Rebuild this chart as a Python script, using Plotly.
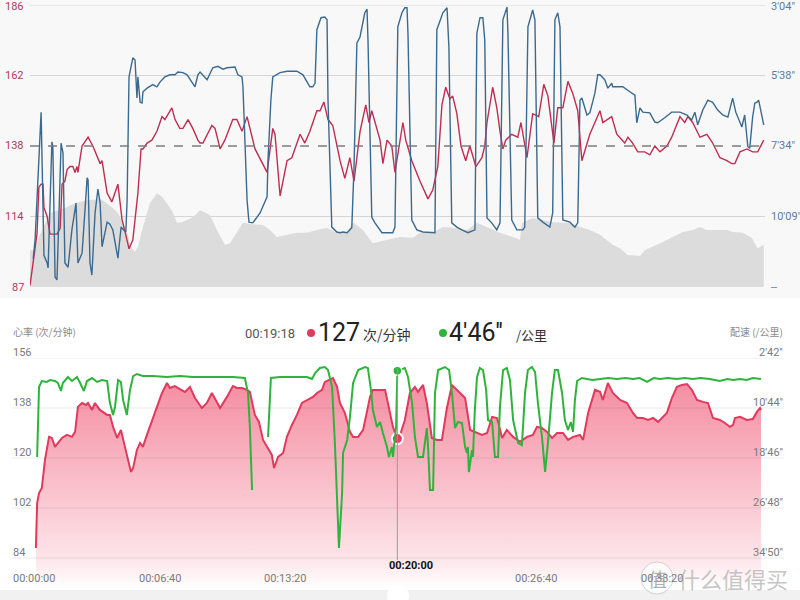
import plotly.graph_objects as go

W, H = 800, 600
def px(x): return x / W
def py(y): return 1 - y / H

# ---------------- data: top panel (time s, value) ----------------
top_hr = [(0,90.5),(19,106),(22,108),(28,124),(35,125),(41,125),(44,117),(54,114),(63,108),(72,108),(85,108),(95,110),
          (101,125),(110,126),(117,130),(126,131),(135,131),(142,129),(148,131),(151,129),(164,138),(183,141),(198,138),
          (221,132),(227,133),(243,122),(258,119),(277,125),(290,113),(299,109),(312,103),(324,106),(331,113),(340,122),
          (350,137),(356,137),(369,139),(384,140),(400,143),(416,148),(425,147),(447,151),(457,147),(472,144),(482,144),
          (498,147),(513,144),(529,140),(536,139),(545,139),(573,145),(583,144),(599,137),(614,140),(639,147),(652,147),
          (668,143),(684,148),(693,144),(709,137),(747,129),(765,144),(772,142),(788,121),(810,133),(825,134),(851,142),
          (866,139),(882,143),(904,150),(914,150),(926,153),(939,147),(954,145),(977,133),(992,127),(1008,134),(1021,126),
          (1040,143),(1058,152),(1068,146),(1077,150),(1103,140),(1112,132),(1125,140),(1140,138),(1150,129),(1166,139),
          (1175,146),(1184,140),(1203,133),(1229,126),(1254,120),(1269,123),(1285,131),(1298,152),(1310,158),(1323,154),
          (1332,155),(1345,149),(1358,138),(1373,133),(1386,138),(1405,131),(1424,134),(1433,138),(1440,146),(1458,158),
          (1471,151),(1481,143),(1490,137),(1499,140),(1518,142),(1537,141),(1547,146),(1566,134),(1584,149),(1603,148),
          (1619,159),(1632,155),(1651,139),(1663,151),(1679,151),(1695,160),(1710,156),(1726,150),(1739,133),(1764,142),
          (1796,150),(1805,146),(1833,148),(1849,142),(1874,139),(1884,141),(1899,139),(1915,136),(1937,136),(1953,135),
          (1969,138),(1985,136),(2007,138),(2022,141),(2048,148),(2063,146),(2073,148),(2088,146),(2111,141),(2133,142),
          (2151,139),(2174,134),(2196,133),(2211,132),(2221,132),(2237,136),(2259,137),(2277,136),(2293,136),(2312,140)]

# pace shown on the top chart's right scale (level 0 = "--", 4 = 3'04")
top_pace_level = [(10,0.40),(16,0.67),(35,2.48),(41,1.23),(44,0.45),(54,0.34),(57,0.27),(69,2.06),(72,1.99),(79,0.14),
          (85,0.10),(98,2.04),(104,1.90),(110,0.34),(120,0.28),(132,0.81),(145,1.19),(151,0.34),(164,0.48),(167,0.67),
          (180,1.55),(183,1.52),(189,0.34),(195,0.17),(205,1.05),(214,1.39),(221,1.19),(227,0.57),(243,0.92),(252,0.89),
          (261,0.81),(277,0.41),(287,0.85),(293,0.82),(302,0.78),(306,1.23),(312,2.98),(324,3.25),(331,3.22),(337,2.68),
          (340,2.98),(347,2.62),(353,2.61),(356,2.77),(369,2.82),(387,2.87),(400,2.84),(410,2.91),(425,2.98),(441,3.01),
          (457,3.01),(466,3.05),(482,3.04),(495,3.01),(510,2.91),(520,2.84),(529,3.01),(536,3.05),(558,2.94),(576,3.11),
          (592,3.13),(608,3.09),(621,3.11),(646,3.12),(655,3.01),(668,2.98),(671,2.84),(684,1.23),(690,0.92),(702,0.91),
          (725,1.05),(747,1.28),(750,1.80),(759,2.65),(765,2.98),(788,3.04),(810,3.06),(841,3.06),(860,3.01),(876,2.89),
          (882,2.84),(891,2.84),(898,2.89),(904,3.65),(917,3.82),(929,3.83),(936,3.79),(939,2.65),(951,0.85),(967,0.78),
          (977,0.77),(986,0.78),(999,0.77),(1014,0.84),(1021,1.70),(1030,3.46),(1040,3.55),(1055,3.89),(1062,3.94),
          (1065,3.50),(1077,0.99),(1087,0.91),(1103,0.81),(1109,0.77),(1125,0.77),(1143,0.77),(1150,0.85),(1159,3.69),
          (1172,3.89),(1181,3.96),(1188,3.96),(1191,3.60),(1203,0.95),(1219,0.81),(1238,0.78),(1266,0.77),(1276,0.77),
          (1282,3.65),(1301,3.89),(1314,3.96),(1320,3.40),(1329,0.91),(1345,0.85),(1361,0.81),(1380,0.77),(1402,0.81),
          (1408,3.60),(1418,3.82),(1427,3.82),(1433,3.50),(1440,0.98),(1455,0.91),(1471,0.81),(1481,0.91),(1490,3.79),
          (1503,3.97),(1506,3.60),(1518,0.95),(1534,0.81),(1553,0.81),(1559,0.85),(1569,3.69),(1584,3.93),(1591,3.79),
          (1600,0.98),(1616,0.92),(1638,0.85),(1647,1.05),(1654,3.79),(1663,3.89),(1670,3.69),(1679,0.95),(1701,0.92),
          (1717,0.85),(1726,0.91),(1733,2.65),(1739,2.68),(1755,2.44),(1764,2.47),(1780,2.75),(1789,3.01),(1796,3.01),
          (1811,2.94),(1821,2.82),(1833,2.89),(1836,2.84),(1868,2.84),(1890,2.77),(1906,2.72),(1912,2.33),(1922,2.54),
          (1931,2.48),(1953,2.47),(1969,2.34),(1978,2.33),(2000,2.40),(2022,2.48),(2048,2.48),(2070,2.44),(2085,2.37),
          (2095,2.48),(2104,2.30),(2120,2.51),(2136,2.65),(2151,2.62),(2167,2.51),(2183,2.44),(2199,2.41),(2211,2.65),
          (2214,2.68),(2224,2.48),(2230,2.41),(2237,2.34),(2243,2.27),(2252,2.44),(2262,1.99),(2268,1.97),(2274,2.33),
          (2277,2.41),(2284,2.61),(2290,2.62),(2296,2.65),(2306,2.44),(2312,2.30)]

top_elev_level = [(0,0.52),(16,0.52),(28,0.71),(63,1.05),(110,1.12),(126,1.16),(158,1.21),(180,1.23),(221,1.25),
          (236,1.21),(258,1.13),(277,1.05),(293,0.92),(306,0.77),(321,0.55),(331,0.50),(340,0.57),(356,0.85),(378,1.19),
          (400,1.33),(416,1.28),(432,1.19),(447,1.09),(463,0.91),(479,0.92),(495,0.95),(513,0.99),(536,1.09),(567,1.02),
          (589,0.81),(614,0.60),(630,0.62),(652,0.77),(671,0.91),(702,0.89),(734,0.88),(756,0.81),(778,0.71),(810,0.74),
          (841,0.77),(873,0.77),(904,0.81),(936,0.84),(967,0.77),(999,0.78),(1017,0.92),(1049,0.81),(1080,0.62),
          (1125,0.67),(1166,0.71),(1206,0.70),(1229,0.77),(1269,0.77),(1301,0.85),(1332,0.84),(1377,0.81),(1408,0.91),
          (1440,0.85),(1481,0.77),(1521,0.71),(1544,0.67),(1550,0.91),(1584,0.98),(1616,0.95),(1647,0.92),(1692,0.91),
          (1733,0.85),(1764,0.81),(1796,0.74),(1818,0.67),(1836,0.60),(1859,0.55),(1884,0.45),(1899,0.45),(1922,0.44),
          (1937,0.52),(1962,0.57),(1994,0.64),(2025,0.71),(2057,0.78),(2088,0.81),(2111,0.85),(2133,0.81),(2158,0.81),
          (2196,0.81),(2214,0.78),(2246,0.77),(2274,0.70),(2293,0.55),(2312,0.60)]

# ---------------- data: bottom panel (time s, value) ----------------
bot_hr = [(6,87.6),(10,103.8),(16,107.4),(25,109.2),(35,119.3),(48,127.6),(57,127.2),(67,124.0),(76,125.4),(89,127.2),
          (105,128.3),(121,127.6),(131,129.4),(140,138.4),(153,139.8),(166,139.1),(172,139.8),(185,137.3),(194,139.8),
          (210,137.3),(233,135.5),(242,135.5),(252,131.2),(265,127.2),(277,130.1),(290,124.0),(309,115.0),(316,116.4),
          (328,122.9),(338,125.4),(347,124.0),(360,128.3),(376,133.0),(392,138.4),(408,143.4),(424,147.0),(433,145.2),
          (449,145.9),(465,144.8),(481,143.8),(497,145.6),(513,141.6),(535,138.0),(551,139.8),(567,143.4),(583,140.2),
          (593,138.0),(615,142.0),(634,145.9),(647,145.2),(663,145.2),(679,144.5),(688,143.8),(704,135.5),(717,133.0),
          (730,126.5),(746,123.6),(758,121.1),(765,116.4),(778,120.4),(794,121.8),(806,127.6),(822,131.9),(838,135.5),
          (854,139.8),(873,140.9),(889,142.0),(902,143.4),(918,144.5),(927,147.4),(943,148.1),(953,148.8),(966,145.6),
          (975,139.8),(991,136.2),(1007,129.4),(1017,127.6),(1033,127.6),(1049,130.1),(1061,136.2),(1071,142.0),
          (1080,144.5),(1103,144.5),(1119,144.5),(1128,139.8),(1144,131.2),(1158,127.0),(1166,128.0),(1182,133.7),
          (1198,143.4),(1214,145.6),(1224,143.8),(1240,146.3),(1252,139.8),(1268,127.2),(1284,126.5),(1300,126.5),
          (1316,138.0),(1332,146.3),(1348,144.5),(1364,142.7),(1374,141.6),(1390,130.1),(1405,129.4),(1428,128.3),
          (1444,129.0),(1460,134.8),(1476,134.4),(1492,127.2),(1507,130.1),(1527,127.6),(1549,125.8),(1571,127.6),
          (1590,128.3),(1603,131.2),(1619,130.8),(1635,129.4),(1651,127.2),(1667,129.0),(1686,129.0),(1702,126.5),
          (1718,127.6),(1740,128.3),(1750,126.5),(1766,136.2),(1788,144.5),(1804,143.8),(1813,140.9),(1829,147.0),
          (1845,143.4),(1868,140.9),(1890,139.8),(1909,136.2),(1922,134.4),(1941,134.4),(1957,133.7),(1973,134.4),
          (1989,133.0),(2017,136.2),(2033,141.6),(2049,145.6),(2065,146.3),(2081,146.6),(2097,144.5),(2113,140.9),
          (2132,140.2),(2148,139.8),(2164,134.4),(2186,133.7),(2202,132.6),(2218,131.2),(2228,131.9),(2234,134.4),
          (2250,134.8),(2272,133.7),(2291,134.0),(2304,136.6),(2314,138.0),(2317,137.3)]

# pace in seconds per km (None = no data)
bot_pace = [(10,1116),(16,442),(25,384),(41,393),(51,374),(67,384),(76,403),(86,480),(92,403),(108,345),(121,384),
          (137,345),(147,403),(159,480),(169,384),(185,355),(201,393),(217,374),(233,384),(242,596),(252,711),(258,634),
          (268,374),(277,393),(284,567),(296,711),(306,470),(316,336),(328,316),(347,336),(379,336),(424,345),(465,336),
          (507,345),(551,345),(593,345),(634,345),(672,355),(682,499),(688,827),(695,1434),(720,None),(746,924),(755,355),
          (784,345),(825,345),(870,345),(886,364),(896,307),(911,258),(927,249),(937,278),(950,442),(959,981),(966,1463),
          (972,1994),(982,1463),(985,1078),(998,952),(1007,731),(1017,403),(1033,278),(1055,249),(1064,258),(1074,470),
          (1080,663),(1093,827),(1103,779),(1112,885),(1125,1020),(1131,1116),(1141,1020),(1144,1116),(1154,827),
          (1158,286),(1166,278),(1182,258),(1192,345),(1205,596),(1214,924),(1224,1116),(1240,1116),(1252,837),
          (1256,1020),(1262,1434),(1272,1434),(1278,499),(1288,278),(1310,249),(1323,278),(1332,499),(1342,837),
          (1351,779),(1364,789),(1374,1020),(1380,1078),(1383,1020),(1386,1261),(1396,1049),(1399,1116),(1405,663),
          (1412,345),(1421,258),(1431,278),(1441,470),(1447,760),(1460,779),(1469,1116),(1479,1116),(1485,634),
          (1495,278),(1507,258),(1517,374),(1527,760),(1543,981),(1555,1001),(1565,499),(1574,278),(1587,249),
          (1597,297),(1606,596),(1619,924),(1629,1261),(1638,981),(1651,499),(1660,278),(1670,278),(1683,499),
          (1692,760),(1702,856),(1711,779),(1718,875),(1724,567),(1731,384),(1746,355),(1780,374),(1804,364),
          (1830,355),(1858,364),(1885,355),(1909,364),(1930,355),(1954,393),(1975,355),(1995,364),(2020,355),
          (2049,364),(2075,355),(2100,364),(2125,355),(2154,364),(2186,384),(2210,364),(2228,374),(2250,364),
          (2272,374),(2291,355),(2317,364)]

# ticks / labels
top_hr_ticks = [186, 162, 138, 114, 90]
top_hr_text = ["186", "162", "138", "114", "87"]
top_pace_ticks = [4, 3, 2, 1, 0]
top_pace_text = ["3'04\"", "5'38\"", "7'34\"", "10'09\"", "--"]
bot_hr_ticks = [156, 138, 120, 102, 84]
bot_pace_ticks = [162, 644, 1126, 1608, 2090]
bot_pace_text = ["2'42''", "10'44''", "18'46''", "26'48''", "34'50''"]
bot_time_ticks = [0, 400, 800, 1200, 1600, 2000]
bot_time_text = ["00:00:00", "00:06:40", "00:13:20", "00:20:00", "00:26:40", "00:33:20"]
cursor_time, cursor_hr, cursor_pace = 1158, 127, 286

FONT = "Roboto, Noto Sans CJK SC, sans-serif"
CJK = "Noto Sans CJK SC, Roboto, sans-serif"

def xs(p): return [a for a, _ in p]
def ys(p): return [b for _, b in p]

fig = go.Figure()
fig.add_trace(go.Scatter(x=xs(top_elev_level), y=ys(top_elev_level), xaxis="x", yaxis="y", mode="lines",
                         line=dict(width=0, color="#dcdcdc"), fill="tozeroy", fillcolor="#dcdcdc", hoverinfo="skip"))
fig.add_trace(go.Scatter(x=xs(top_hr), y=ys(top_hr), xaxis="x", yaxis="y2", mode="lines",
                         line=dict(width=1.4, color="#bf2d52")))
fig.add_trace(go.Scatter(x=xs(top_pace_level), y=ys(top_pace_level), xaxis="x", yaxis="y3", mode="lines",
                         line=dict(width=1.4, color="#3b6a8e")))
fig.add_trace(go.Scatter(x=xs(bot_hr), y=ys(bot_hr), xaxis="x2", yaxis="y4", mode="lines",
                         line=dict(width=2, color="#e03a5d"), fill="tozeroy",
                         fillgradient=dict(type="vertical", start=73, stop=150,
                                           colorscale=[[0, "#ffffff"], [0.15, "#fde3e8"], [1, "#f48a9f"]])))
fig.add_trace(go.Scatter(x=[cursor_time], y=[cursor_hr], xaxis="x2", yaxis="y4", mode="markers", cliponaxis=False,
                         marker=dict(size=11, color="#e03a5d", line=dict(color="white", width=2))))
fig.add_trace(go.Scatter(x=xs(bot_pace), y=ys(bot_pace), xaxis="x2", yaxis="y5", mode="lines", connectgaps=False,
                         line=dict(width=2, color="#2fb33c")))
fig.add_trace(go.Scatter(x=[cursor_time], y=[cursor_pace], xaxis="x2", yaxis="y5", mode="markers", cliponaxis=False,
                         marker=dict(size=9, color="#2fb33c", line=dict(color="white", width=1.5))))

hid = dict(visible=False, showgrid=False, zeroline=False, fixedrange=True)
top_dom = [py(287), py(5)]
bot_dom = [py(588), py(358)]
fig.update_layout(
    width=W, height=H, margin=dict(l=0, r=0, t=0, b=0), showlegend=False,
    paper_bgcolor="white", plot_bgcolor="rgba(0,0,0,0)", hovermode=False,
    font=dict(family=FONT),
    xaxis=dict(domain=[px(30), px(765)], range=[0, 2316], anchor="y", **hid),
    yaxis=dict(domain=top_dom, range=[0, 4], anchor="x", **hid),
    yaxis2=dict(overlaying="y", range=[90, 186], anchor="x", **hid),
    yaxis3=dict(overlaying="y", range=[0, 4], anchor="x", **hid),
    xaxis2=dict(domain=[px(34), px(766)], range=[0, 2333], anchor="y4", **hid),
    yaxis4=dict(domain=bot_dom, range=[73.2, 156], anchor="x2", **hid),
    yaxis5=dict(overlaying="y4", range=[2379, 162], anchor="x2", **hid),
)

shapes = []
# top panel background
shapes.append(dict(type="rect", xref="paper", yref="paper", x0=0, x1=1, y0=py(298), y1=1,
                   fillcolor="#f8f8f8", line=dict(width=0), layer="below"))
for v in top_hr_ticks[:-1]:
    if v == 138:
        continue
    shapes.append(dict(type="line", xref="paper", yref="y2", x0=px(30), x1=px(765), y0=v, y1=v,
                       line=dict(color="#d6d6d6", width=1), layer="below"))
shapes.append(dict(type="line", xref="paper", yref="y2", x0=px(30), x1=px(765), y0=138, y1=138,
                   line=dict(color="#7c7c7c", width=1.6, dash="dash"), layer="above"))
# bottom grid
for v in bot_hr_ticks:
    shapes.append(dict(type="line", xref="paper", yref="y4", x0=px(12), x1=px(784), y0=v, y1=v,
                       line=dict(color="rgba(0,0,0,0.08)", width=1), layer="above"))
# crosshair
shapes.append(dict(type="line", xref="x2", yref="paper", x0=cursor_time, x1=cursor_time, y0=py(560), y1=py(368),
                   line=dict(color="#9a9a9a", width=1), layer="above"))
# header dots
shapes.append(dict(type="circle", xref="paper", yref="paper", x0=px(307), x1=px(315), y0=py(337), y1=py(329),
                   fillcolor="#e03a5d", line=dict(width=0)))
shapes.append(dict(type="circle", xref="paper", yref="paper", x0=px(439), x1=px(447), y0=py(337), y1=py(329),
                   fillcolor="#2fb33c", line=dict(width=0)))
# bottom band + slider knob
shapes.append(dict(type="rect", xref="paper", yref="paper", x0=0, x1=1, y0=0, y1=py(590),
                   fillcolor="#f1f1f1", line=dict(width=0)))
shapes.append(dict(type="circle", xref="paper", yref="paper", x0=px(387), x1=px(409), y0=py(607), y1=py(585),
                   fillcolor="white", line=dict(width=0)))
# watermark circle
shapes.append(dict(type="circle", xref="paper", yref="paper", x0=px(641), x1=px(673), y0=py(594), y1=py(562),
                   fillcolor="rgba(255,255,255,0.7)", line=dict(color="rgba(170,170,170,0.5)", width=1)))
fig.update_layout(shapes=shapes)

ann = []
for v, t in zip(top_hr_ticks, top_hr_text):
    ann.append(dict(xref="paper", yref="y2", x=px(26), y=v, text=t, showarrow=False, xanchor="right",
                    yanchor="middle", yshift=(-2 if v == 186 else 0),
                    font=dict(size=11, color="#b03a60", family=FONT)))
for v, t in zip(top_pace_ticks, top_pace_text):
    ann.append(dict(xref="paper", yref="y3", x=px(769), y=v, text=t, showarrow=False, xanchor="left",
                    yanchor="middle", yshift=(-2 if v == 4 else 0),
                    font=dict(size=11, color="#5a7d9b", family=FONT)))
for v in bot_hr_ticks:
    ann.append(dict(xref="paper", yref="y4", x=px(11), y=v, text=str(v), showarrow=False, xanchor="left",
                    yanchor="middle", yshift=6, font=dict(size=11, color="#7a7a7a", family=FONT)))
for v, t in zip(bot_pace_ticks, bot_pace_text):
    ann.append(dict(xref="paper", yref="y5", x=px(785), y=v, text=t, showarrow=False, xanchor="right",
                    yanchor="middle", yshift=6, font=dict(size=11, color="#7a7a7a", family=FONT)))
for v, t in zip(bot_time_ticks, bot_time_text):
    if v == 1200:
        ann.append(dict(xref="x2", yref="paper", x=v, y=py(565), text="<b>" + t + "</b>", showarrow=False,
                        xanchor="center", yanchor="middle", font=dict(size=11, color="#111", family=FONT)))
    else:
        ann.append(dict(xref="x2", yref="paper", x=v, y=py(578), text=t, showarrow=False,
                        xanchor="center", yanchor="middle", font=dict(size=11, color="#7a7a7a", family=FONT)))

def hdr(x, y, text, size, color, anchor="left", family=FONT):
    ann.append(dict(xref="paper", yref="paper", x=px(x), y=py(y), text=text, showarrow=False,
                    xanchor=anchor, yanchor="middle", font=dict(size=size, color=color, family=family)))

hdr(11, 331, "心率 (次/分钟)", 10, "#8a8a8a", family=CJK)
hdr(785, 331, "配速 (/公里)", 10, "#8a8a8a", anchor="right", family=CJK)
hdr(243, 333, "00:19:18", 13, "#555555")
hdr(316, 332, "127", 25, "#222222")
hdr(361, 334, "次/分钟", 14, "#333333", family=CJK)
hdr(447, 332, "4'46''", 25, "#222222")
hdr(514, 334, "/公里", 13, "#333333", family=CJK)
# watermark
hdr(657, 578, "值", 19, "rgba(150,150,150,0.75)", anchor="center", family=CJK)
hdr(676, 578, "什么值得买", 22, "rgba(160,160,160,0.6)", family=CJK)
fig.update_layout(annotations=ann)

fig.write_html("out.html")
